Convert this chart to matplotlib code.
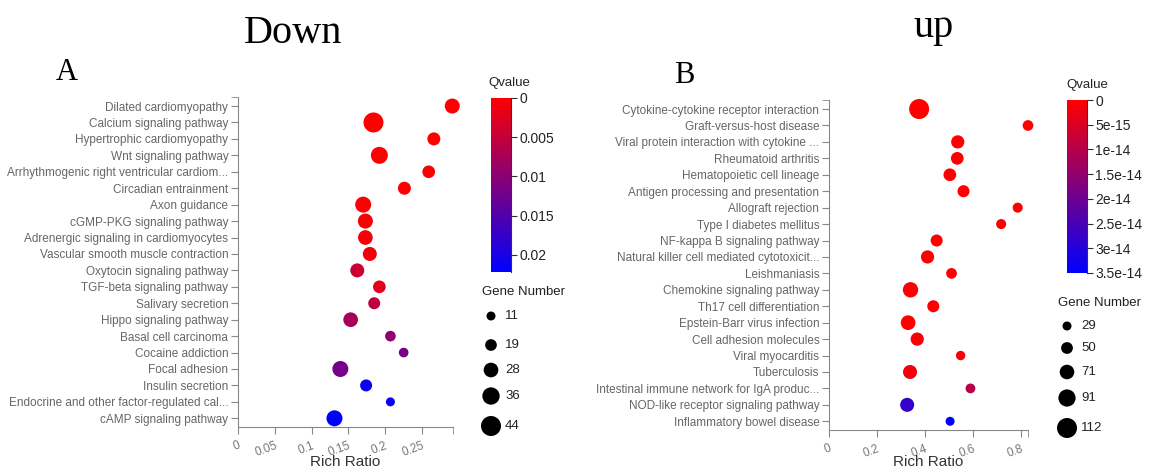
import matplotlib
matplotlib.use('Agg')
import matplotlib.pyplot as plt
import numpy as np
from matplotlib.colors import LinearSegmentedColormap

# Panel A - Down
down_terms = ['Dilated cardiomyopathy', 'Calcium signaling pathway', 'Hypertrophic cardiomyopathy',
              'Wnt signaling pathway', 'Arrhythmogenic right ventricular cardiom...', 'Circadian entrainment',
              'Axon guidance', 'cGMP-PKG signaling pathway', 'Adrenergic signaling in cardiomyocytes',
              'Vascular smooth muscle contraction', 'Oxytocin signaling pathway', 'TGF-beta signaling pathway',
              'Salivary secretion', 'Hippo signaling pathway', 'Basal cell carcinoma', 'Cocaine addiction',
              'Focal adhesion', 'Insulin secretion', 'Endocrine and other factor-regulated cal...',
              'cAMP signaling pathway']
down_ratio = [0.291, 0.184, 0.266, 0.192, 0.259, 0.226, 0.170, 0.173, 0.173, 0.179,
              0.162, 0.192, 0.185, 0.153, 0.207, 0.225, 0.139, 0.174, 0.207, 0.131]
down_genes = [29, 44, 23, 35, 22, 23, 32, 29, 28, 26, 26, 22, 20, 28, 16, 13, 32, 20, 11, 32]
down_q = [0.0, 0.0, 0.0, 0.0, 0.0002, 0.0003, 0.0004, 0.0005, 0.0008, 0.001,
          0.0043, 0.0026, 0.0056, 0.0078, 0.0095, 0.0116, 0.012, 0.021, 0.0212, 0.0222]
down_q_ticks = [0, 0.005, 0.01, 0.015, 0.02]
down_q_labels = ['0', '0.005', '0.01', '0.015', '0.02']
down_size_legend = [11, 19, 28, 36, 44]
down_x_ticks = [0, 0.05, 0.1, 0.15, 0.2, 0.25]

# Panel B - up
up_terms = ['Cytokine-cytokine receptor interaction', 'Graft-versus-host disease',
            'Viral protein interaction with cytokine ...', 'Rheumatoid arthritis', 'Hematopoietic cell lineage',
            'Antigen processing and presentation', 'Allograft rejection', 'Type I diabetes mellitus',
            'NF-kappa B signaling pathway', 'Natural killer cell mediated cytotoxicit...', 'Leishmaniasis',
            'Chemokine signaling pathway', 'Th17 cell differentiation', 'Epstein-Barr virus infection',
            'Cell adhesion molecules', 'Viral myocarditis', 'Tuberculosis',
            'Intestinal immune network for IgA produc...', 'NOD-like receptor signaling pathway',
            'Inflammatory bowel disease']
up_ratio = [0.376, 0.830, 0.537, 0.535, 0.504, 0.561, 0.787, 0.718, 0.449, 0.411,
            0.511, 0.340, 0.435, 0.330, 0.368, 0.549, 0.338, 0.590, 0.326, 0.505]
up_genes = [112, 42, 61, 57, 57, 52, 37, 37, 52, 61, 42, 77, 52, 72, 61, 32, 67, 35, 67, 29]
up_q = [0.0, 0.0, 0.0, 0.0, 0.0, 0.0, 0.0, 0.0, 0.0, 0.0,
        0.0, 0.5e-15, 0.0, 0.0, 1e-15, 1e-15, 2e-15, 1.0e-14, 2.8e-14, 3.5e-14]
up_q_ticks = [0, 5e-15, 1e-14, 1.5e-14, 2e-14, 2.5e-14, 3e-14, 3.5e-14]
up_q_labels = ['0', '5e-15', '1e-14', '1.5e-14', '2e-14', '2.5e-14', '3e-14', '3.5e-14']
up_size_legend = [29, 50, 71, 91, 112]
up_x_ticks = [0, 0.2, 0.4, 0.6, 0.8]

W, H = 1154, 474
cmap = LinearSegmentedColormap.from_list('rb', ['#ff0000', '#0000ff'])
plt.rcParams['font.family'] = ['Liberation Sans', 'DejaVu Sans']

fig = plt.figure(figsize=(W / 100, H / 100), dpi=100)


def px(x0, y0, x1, y1):
    return [x0 / W, 1 - y1 / H, (x1 - x0) / W, (y1 - y0) / H]


def sizes(genes, lo, hi):
    g = np.asarray(genes, dtype=float)
    d = 9 + 11 * (g - lo) / (hi - lo)
    return (d * 0.72) ** 2


def panel(box, terms, ratio, genes, q, qmax, xmax, xticks, leg, label_xy):
    ax = fig.add_axes(box)
    y = np.arange(len(terms))
    ax.scatter(ratio, y, s=sizes(genes, leg[0], leg[-1]), c=q, cmap=cmap,
               vmin=0, vmax=qmax, edgecolors='none', zorder=3, clip_on=False)
    ax.set_xlim(0, xmax)
    ax.set_ylim(len(terms) - 0.47, -0.55)
    ax.set_yticks(y)
    ax.set_yticklabels(terms, fontsize=8.5, color='#666666')
    ax.set_xticks(xticks)
    ax.set_xticklabels([('%g' % t) for t in xticks], fontsize=8.5, color='#777777',
                       rotation=20, ha='right', rotation_mode='anchor')
    ax.set_xticks([xmax], minor=True)
    ax.set_yticks([-0.55], minor=True)
    for s in ['top', 'right']:
        ax.spines[s].set_visible(False)
    for s in ['left', 'bottom']:
        ax.spines[s].set_color('#888888')
    ax.tick_params(which='both', length=5, color='#888888', pad=2)
    ax.tick_params(axis='x', which='major', pad=4)
    ax.set_xlabel('Rich Ratio', fontsize=11, color='#333333', va='center')
    ax.xaxis.set_label_coords(label_xy[0] / W, 1 - label_xy[1] / H, transform=fig.transFigure)
    return ax


def colorbar(box, qmax, ticks, labels, title_xy):
    cax = fig.add_axes(box)
    grad = np.linspace(0, qmax, 256).reshape(-1, 1)
    cax.imshow(grad, cmap=cmap, aspect='auto', extent=[0, 1, qmax, 0], vmin=0, vmax=qmax)
    cax.set_xticks([])
    cax.yaxis.tick_right()
    cax.set_yticks(ticks)
    cax.set_yticklabels(labels, fontsize=10, color='#222222')
    cax.tick_params(axis='y', length=4, color='#333333', pad=2)
    for s in ['top', 'left', 'bottom']:
        cax.spines[s].set_visible(False)
    cax.spines['right'].set_color('#333333')
    fig.text(title_xy[0] / W, 1 - title_xy[1] / H, 'Qvalue', fontsize=9.5,
             color='#222222', ha='center', va='center')


panel(px(238, 97, 453, 427), down_terms, down_ratio, down_genes, down_q, 0.0222, 0.292,
      down_x_ticks, down_size_legend, (345, 462))
panel(px(829, 100, 1028, 430), up_terms, up_ratio, up_genes, up_q, 3.5e-14, 0.83,
      up_x_ticks, up_size_legend, (928, 462))

colorbar(px(491, 98, 511, 272), 0.0222, down_q_ticks, down_q_labels, (509, 83))
colorbar(px(1067, 100, 1087, 273), 3.5e-14, up_q_ticks, up_q_labels, (1087, 85))

# size legends on an overlay in pixel coordinates
lax = fig.add_axes([0, 0, 1, 1])
lax.set_xlim(0, W)
lax.set_ylim(H, 0)
lax.axis('off')
lax.patch.set_alpha(0)


def size_legend(vals, x, ys, title_xy):
    lax.text(title_xy[0], title_xy[1], 'Gene Number', fontsize=9.5, color='#222222',
             ha='left', va='center')
    lax.scatter([x] * len(vals), ys, s=sizes(vals, vals[0], vals[-1]), color='black',
                edgecolors='none')
    for v, yy in zip(vals, ys):
        lax.text(x + 14, yy, str(v), fontsize=9.5, color='#222222', ha='left', va='center')


size_legend(down_size_legend, 491, [316, 345, 370, 396, 426], (482, 292))
size_legend(up_size_legend, 1067, [326, 348, 372, 398, 428], (1058, 303))

fig.text(293 / W, 1 - 43 / H, 'Down', fontsize=29, family='Liberation Serif',
         ha='center', va='baseline')
fig.text(934 / W, 1 - 37 / H, 'up', fontsize=29, family='Liberation Serif',
         ha='center', va='baseline')
fig.text(67 / W, 1 - 80 / H, 'A', fontsize=22, family='Liberation Serif',
         ha='center', va='baseline')
fig.text(684 / W, 1 - 83 / H, 'B', fontsize=22, family='Liberation Serif',
         ha='center', va='baseline')

fig.savefig('out.png', dpi=100)
